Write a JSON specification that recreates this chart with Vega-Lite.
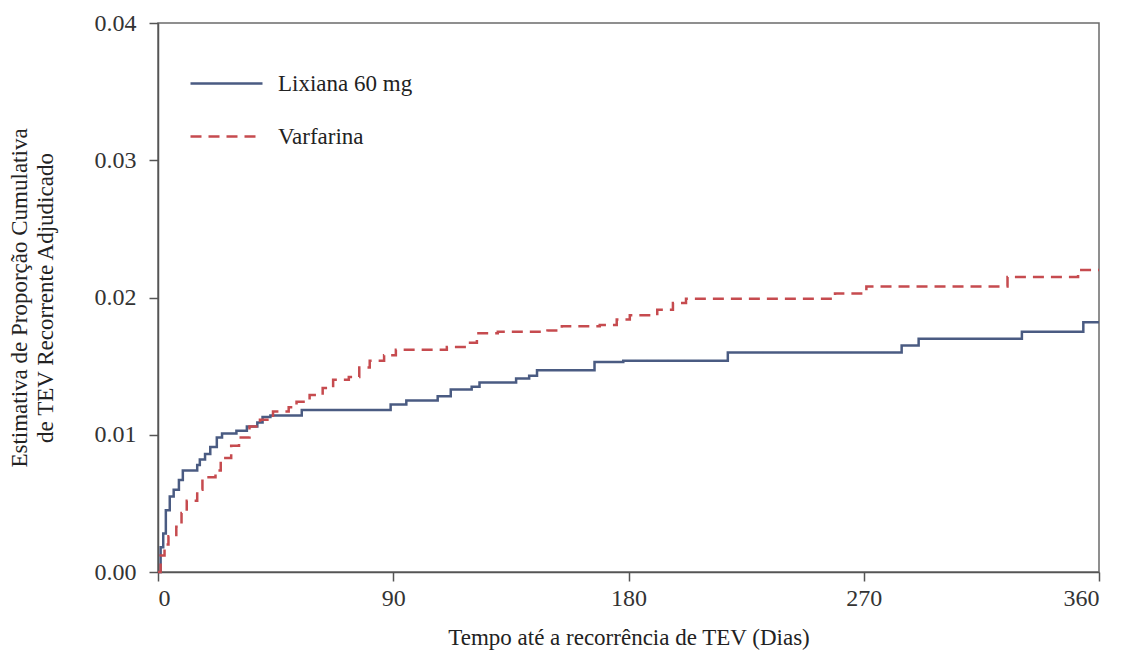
{
  "$schema": "https://vega.github.io/schema/vega-lite/v6.json",
  "autosize": "none",
  "width": 941,
  "height": 549,
  "padding": {"left": 158, "top": 23, "right": 24, "bottom": 78},
  "background": "white",
  "config": {
    "font": "Liberation Serif, Times New Roman, serif",
    "view": {"stroke": "#6b6b6b", "strokeWidth": 1.5},
    "axis": {"grid": false, "domainColor": "#555", "domainWidth": 1.5, "tickColor": "#555", "tickWidth": 1.5, "tickSize": 9, "labelFont": "Liberation Serif, Times New Roman, serif", "labelColor": "#333", "labelFontSize": 24, "titleFont": "Liberation Serif, Times New Roman, serif", "titleFontWeight": "normal", "titleColor": "#222", "titleFontSize": 23},
    "legend": {"labelFont": "Liberation Serif, Times New Roman, serif"}
  },
  "datasets": {
    "km": [
      {"grupo": "Lixiana 60 mg", "dia": 0, "p": 0},
      {"grupo": "Lixiana 60 mg", "dia": 1, "p": 0.0018},
      {"grupo": "Lixiana 60 mg", "dia": 2, "p": 0.0028},
      {"grupo": "Lixiana 60 mg", "dia": 3, "p": 0.0045},
      {"grupo": "Lixiana 60 mg", "dia": 4.5, "p": 0.0055},
      {"grupo": "Lixiana 60 mg", "dia": 6, "p": 0.006},
      {"grupo": "Lixiana 60 mg", "dia": 8, "p": 0.0067},
      {"grupo": "Lixiana 60 mg", "dia": 9.5, "p": 0.0074},
      {"grupo": "Lixiana 60 mg", "dia": 15, "p": 0.0078},
      {"grupo": "Lixiana 60 mg", "dia": 16, "p": 0.0082},
      {"grupo": "Lixiana 60 mg", "dia": 18, "p": 0.0086},
      {"grupo": "Lixiana 60 mg", "dia": 20, "p": 0.0091},
      {"grupo": "Lixiana 60 mg", "dia": 22.5, "p": 0.0098},
      {"grupo": "Lixiana 60 mg", "dia": 24.5, "p": 0.0101},
      {"grupo": "Lixiana 60 mg", "dia": 30, "p": 0.0103},
      {"grupo": "Lixiana 60 mg", "dia": 34, "p": 0.0106},
      {"grupo": "Lixiana 60 mg", "dia": 38, "p": 0.0109},
      {"grupo": "Lixiana 60 mg", "dia": 40, "p": 0.0113},
      {"grupo": "Lixiana 60 mg", "dia": 43, "p": 0.0114},
      {"grupo": "Lixiana 60 mg", "dia": 55, "p": 0.0118},
      {"grupo": "Lixiana 60 mg", "dia": 89, "p": 0.0122},
      {"grupo": "Lixiana 60 mg", "dia": 95, "p": 0.0125},
      {"grupo": "Lixiana 60 mg", "dia": 107, "p": 0.0128},
      {"grupo": "Lixiana 60 mg", "dia": 112, "p": 0.0133},
      {"grupo": "Lixiana 60 mg", "dia": 120, "p": 0.0135},
      {"grupo": "Lixiana 60 mg", "dia": 123, "p": 0.0138},
      {"grupo": "Lixiana 60 mg", "dia": 137, "p": 0.0141},
      {"grupo": "Lixiana 60 mg", "dia": 142, "p": 0.0143},
      {"grupo": "Lixiana 60 mg", "dia": 145, "p": 0.0147},
      {"grupo": "Lixiana 60 mg", "dia": 167, "p": 0.0153},
      {"grupo": "Lixiana 60 mg", "dia": 178, "p": 0.0154},
      {"grupo": "Lixiana 60 mg", "dia": 218, "p": 0.016},
      {"grupo": "Lixiana 60 mg", "dia": 284.5, "p": 0.0165},
      {"grupo": "Lixiana 60 mg", "dia": 291, "p": 0.017},
      {"grupo": "Lixiana 60 mg", "dia": 330.5, "p": 0.0175},
      {"grupo": "Lixiana 60 mg", "dia": 354, "p": 0.0182},
      {"grupo": "Lixiana 60 mg", "dia": 360, "p": 0.0182},
      {"grupo": "Varfarina", "dia": 0, "p": 0},
      {"grupo": "Varfarina", "dia": 1, "p": 0.0012},
      {"grupo": "Varfarina", "dia": 2.5, "p": 0.002},
      {"grupo": "Varfarina", "dia": 4, "p": 0.0026},
      {"grupo": "Varfarina", "dia": 7, "p": 0.0033},
      {"grupo": "Varfarina", "dia": 9, "p": 0.0043},
      {"grupo": "Varfarina", "dia": 11, "p": 0.0052},
      {"grupo": "Varfarina", "dia": 15, "p": 0.006},
      {"grupo": "Varfarina", "dia": 17, "p": 0.0069},
      {"grupo": "Varfarina", "dia": 22, "p": 0.0074},
      {"grupo": "Varfarina", "dia": 24, "p": 0.0083},
      {"grupo": "Varfarina", "dia": 28, "p": 0.0092},
      {"grupo": "Varfarina", "dia": 31, "p": 0.0098},
      {"grupo": "Varfarina", "dia": 35, "p": 0.0106},
      {"grupo": "Varfarina", "dia": 39, "p": 0.0111},
      {"grupo": "Varfarina", "dia": 44, "p": 0.0117},
      {"grupo": "Varfarina", "dia": 50, "p": 0.012},
      {"grupo": "Varfarina", "dia": 53, "p": 0.0124},
      {"grupo": "Varfarina", "dia": 58, "p": 0.0129},
      {"grupo": "Varfarina", "dia": 63, "p": 0.0134},
      {"grupo": "Varfarina", "dia": 67, "p": 0.014},
      {"grupo": "Varfarina", "dia": 73, "p": 0.0142},
      {"grupo": "Varfarina", "dia": 77, "p": 0.0149},
      {"grupo": "Varfarina", "dia": 81, "p": 0.0154},
      {"grupo": "Varfarina", "dia": 86.5, "p": 0.0158},
      {"grupo": "Varfarina", "dia": 91, "p": 0.0162},
      {"grupo": "Varfarina", "dia": 110.5, "p": 0.0164},
      {"grupo": "Varfarina", "dia": 118.5, "p": 0.0167},
      {"grupo": "Varfarina", "dia": 122, "p": 0.0174},
      {"grupo": "Varfarina", "dia": 130, "p": 0.0175},
      {"grupo": "Varfarina", "dia": 149, "p": 0.0176},
      {"grupo": "Varfarina", "dia": 154.5, "p": 0.0179},
      {"grupo": "Varfarina", "dia": 169, "p": 0.018},
      {"grupo": "Varfarina", "dia": 175.5, "p": 0.0184},
      {"grupo": "Varfarina", "dia": 180.5, "p": 0.0187},
      {"grupo": "Varfarina", "dia": 191, "p": 0.0191},
      {"grupo": "Varfarina", "dia": 197, "p": 0.0196},
      {"grupo": "Varfarina", "dia": 202, "p": 0.0199},
      {"grupo": "Varfarina", "dia": 259, "p": 0.0203},
      {"grupo": "Varfarina", "dia": 271, "p": 0.0208},
      {"grupo": "Varfarina", "dia": 325, "p": 0.0215},
      {"grupo": "Varfarina", "dia": 352, "p": 0.022},
      {"grupo": "Varfarina", "dia": 360, "p": 0.022}
    ]
  },
  "data": {"name": "km"},
  "mark": {"type": "line", "interpolate": "step-after", "strokeWidth": 2.5},
  "encoding": {
    "x": {
      "field": "dia", "type": "quantitative",
      "scale": {"domain": [0, 360], "nice": false, "zero": false},
      "axis": {"values": [0, 90, 180, 270, 360], "title": "Tempo até a recorrência de TEV  (Dias)", "labelPadding": 5, "titlePadding": 16}
    },
    "y": {
      "field": "p", "type": "quantitative",
      "scale": {"domain": [0, 0.04], "nice": false},
      "axis": {"values": [0, 0.01, 0.02, 0.03, 0.04], "format": ".2f", "labelPadding": 13, "title": ["Estimativa de Proporção Cumulativa", "de TEV Recorrente Adjudicado"], "titlePadding": 37, "titleLineHeight": 26}
    },
    "color": {
      "field": "grupo", "type": "nominal",
      "scale": {"domain": ["Lixiana 60 mg", "Varfarina"], "range": ["#4a5b82", "#c64b4f"]},
      "legend": {"title": null, "orient": "none", "legendX": 31, "legendY": 23, "symbolType": "stroke", "symbolSize": 5184, "symbolStrokeWidth": 2.5, "labelFontSize": 23, "labelColor": "#222", "rowPadding": 3, "labelOffset": 14}
    },
    "strokeDash": {
      "field": "grupo", "type": "nominal",
      "scale": {"domain": ["Lixiana 60 mg", "Varfarina"], "range": [[1, 0], [11, 7]]},
      "legend": null
    }
  }
}
